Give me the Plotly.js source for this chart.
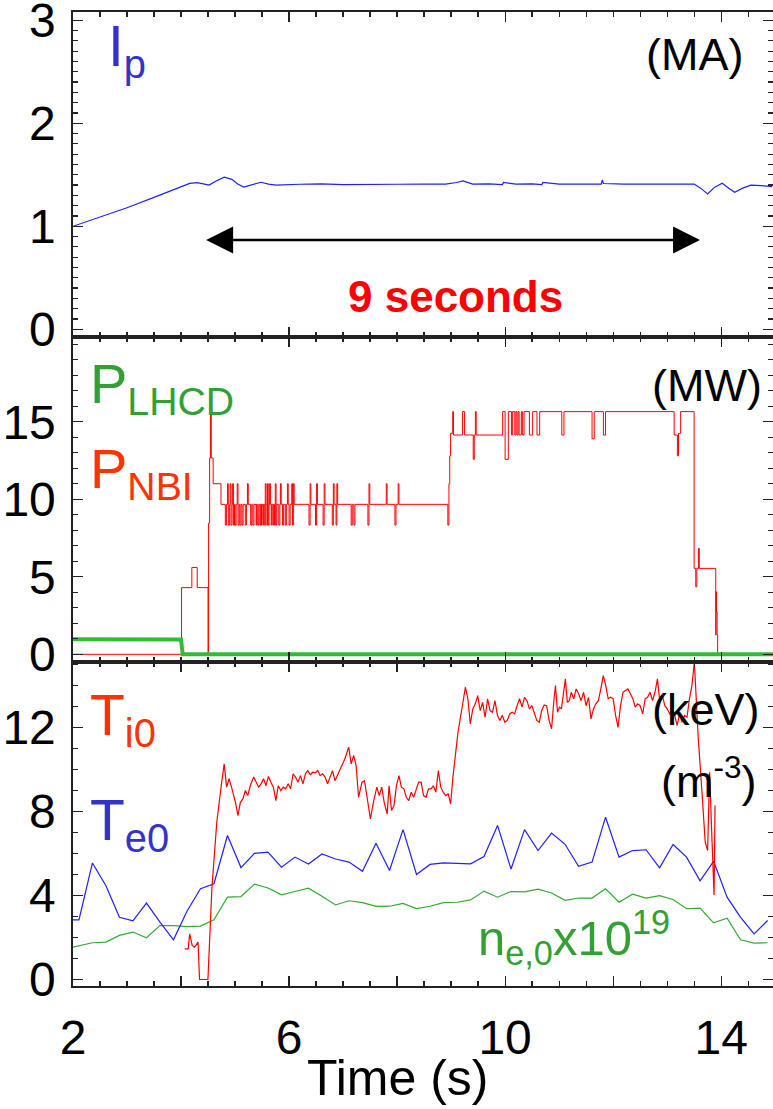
<!DOCTYPE html>
<html>
<head>
<meta charset="utf-8">
<script src="https://cdn.plot.ly/plotly-3.0.1.min.js"></script>
<style>html,body{margin:0;padding:0;background:#fff;}#chart{width:773px;height:1109px;}</style>
</head>
<body>
<div id="chart"></div>
<script>
// ---------- Panel 1: plasma current (MA) ----------
const ipT = [2.00,2.5,3.0,3.5,4.0,4.16,4.30,4.40,4.52,4.65,4.80,4.94,5.05,5.16,5.30,5.48,5.62,5.76,6.2,6.6,7.0,7.5,8.0,8.5,8.9,9.10,9.22,9.40,9.7,9.95,9.97,10.2,10.5,10.68,10.70,11.0,11.4,11.78,11.80,11.82,12.2,12.6,13.0,13.3,13.50,13.62,13.75,13.88,14.02,14.14,14.25,14.40,14.55,14.75,14.94];
const ipV = [1.00,1.09,1.18,1.28,1.38,1.417,1.424,1.41,1.40,1.44,1.476,1.456,1.41,1.38,1.40,1.427,1.41,1.40,1.408,1.412,1.405,1.41,1.408,1.41,1.41,1.425,1.44,1.41,1.412,1.405,1.425,1.41,1.412,1.405,1.425,1.41,1.41,1.41,1.45,1.415,1.41,1.41,1.408,1.41,1.41,1.37,1.314,1.38,1.417,1.37,1.33,1.37,1.40,1.395,1.385];

// ---------- Panel 2: heating powers (MW) ----------
const lhcdT = [2.0,4.0,4.03,14.96];
const lhcdV = [0.97,0.95,0.0,0.0];
const nbiT = [2.00,4.01,4.20,4.30,4.50,4.51,4.53,4.545,4.56,4.595,4.74,
 4.82,4.84,4.86,4.875,4.90,4.91,4.925,4.945,4.955,4.97,4.99,5.00,5.02,5.04,5.055,5.075,5.09,5.11,5.13,5.15,5.19,5.21,5.23,5.245,5.29,5.31,5.33,5.35,5.39,5.40,5.42,5.44,5.46,5.475,5.49,5.50,5.52,5.53,5.55,5.56,5.575,5.59,5.60,5.615,5.63,5.64,5.655,5.67,5.68,5.70,5.715,5.73,5.745,5.76,5.775,5.81,5.83,5.84,5.855,5.88,5.90,5.93,5.95,5.97,5.985,6.00,6.02,6.05,6.065,6.08,6.095,
 6.37,6.39,6.405,6.49,6.51,6.525,6.63,6.65,6.665,6.80,6.82,6.835,6.87,6.885,6.90,7.15,7.17,7.20,7.22,7.46,7.48,7.495,7.80,7.815,7.96,7.98,8.02,8.035,
 8.94,8.96,8.975,8.99,9.03,9.045,9.21,9.25,9.41,9.43,9.45,9.465,9.955,10.00,10.06,10.12,10.14,10.18,10.20,10.22,10.24,10.26,10.30,10.32,10.35,10.45,10.51,10.59,10.64,11.05,11.09,11.61,11.65,11.82,11.86,13.13,13.19,13.21,13.25,
 13.50,13.53,13.55,13.58,13.595,13.90,13.905,13.915,13.925,13.935,14.96];
const nbiV = [0,4.3,5.6,4.3,0,8.46,12.66,15.6,12.66,11.0,9.67,
 8.33,9.67,11.0,8.33,9.67,11.0,8.33,9.67,11.0,8.33,9.67,8.33,9.67,11.0,8.33,9.67,8.33,9.67,8.33,9.67,8.33,9.67,11.0,9.67,8.33,9.67,8.33,9.67,8.33,9.67,8.33,9.67,8.33,9.67,8.33,9.67,8.33,9.67,8.33,11.0,9.67,8.33,11.0,8.33,9.67,11.0,9.67,8.33,9.67,8.33,9.67,8.33,11.0,8.33,9.67,8.33,9.67,11.0,9.67,8.33,9.67,8.33,9.67,11.0,9.67,8.33,9.67,11.0,8.33,11.0,9.67,
 8.33,11.0,9.67,8.33,11.0,9.67,8.33,11.0,9.67,8.33,11.0,9.67,8.33,11.0,9.67,8.33,9.67,8.33,9.67,8.33,11.0,9.67,11.0,9.67,8.33,9.67,11.0,9.67,
 8.33,11.0,12.8,14.25,15.65,14.14,15.65,14.14,12.57,14.14,15.65,14.14,15.65,12.57,15.65,14.14,15.65,14.14,15.65,14.14,15.65,14.14,15.65,14.14,15.65,14.14,15.65,14.14,15.65,14.14,15.65,13.9,15.65,14.14,15.65,14.14,12.8,14.25,15.65,
 5.54,4.35,5.54,6.83,5.54,1.24,4.03,2.74,1.24,0,0];

// ---------- Panel 3: central temperatures (keV) and density (1e19 m^-3) ----------
const teT = [2.00,2.11,2.36,2.61,2.86,3.11,3.36,3.61,3.86,4.11,4.36,4.61,4.86,5.11,5.36,5.61,5.86,6.11,6.36,6.61,6.86,7.11,7.36,7.61,7.86,8.11,8.36,8.61,8.86,9.11,9.36,9.61,9.86,10.11,10.36,10.61,10.86,11.11,11.36,11.61,11.86,12.11,12.36,12.61,12.86,13.11,13.36,13.61,13.86,14.11,14.36,14.61,14.86];
const teV = [2.84,2.84,5.55,4.47,2.96,2.79,3.64,2.73,1.89,3.25,4.32,4.56,6.86,5.33,6.01,6.07,5.35,5.83,5.50,5.98,5.74,5.59,5.15,6.49,5.19,7.14,5.00,5.48,5.55,5.52,5.51,5.86,7.34,5.26,7.14,6.14,6.97,6.44,5.39,5.59,7.73,5.83,6.14,6.18,5.32,6.43,5.83,4.70,5.63,3.92,2.96,2.17,2.81];
const neT = [2.00,2.36,2.61,2.86,3.11,3.36,3.61,3.86,4.11,4.36,4.61,4.86,5.11,5.36,5.61,5.86,6.11,6.36,6.61,6.86,7.11,7.36,7.61,7.86,8.11,8.36,8.61,8.86,9.11,9.36,9.61,9.86,10.11,10.36,10.61,10.86,11.11,11.36,11.61,11.86,12.11,12.36,12.61,12.86,13.11,13.36,13.61,13.86,14.11,14.36,14.61,14.86];
const neV = [1.54,1.75,1.78,2.10,2.26,1.99,2.57,2.57,2.52,2.54,2.84,3.92,3.95,4.54,4.36,4.03,4.19,4.35,3.97,3.55,3.75,3.66,3.48,3.49,3.62,3.38,3.49,3.66,3.68,3.79,4.21,3.92,4.19,4.17,4.30,4.12,3.77,3.88,3.88,4.32,3.68,4.06,3.88,3.99,3.81,3.37,3.40,2.70,2.92,1.89,1.73,1.75];
const tiT = [4.069,4.133,4.160,4.206,4.252,4.315,4.343,4.498,4.571,4.662,4.753,4.799,4.844,4.890,4.935,5.008,5.054,5.099,5.145,5.191,5.236,5.282,5.346,5.391,5.437,5.482,5.528,5.573,5.619,5.665,5.710,5.756,5.801,5.847,5.892,5.938,5.984,6.029,6.075,6.120,6.166,6.211,6.257,6.303,6.348,6.394,6.439,6.485,6.531,6.576,6.622,6.667,6.713,6.759,6.804,6.850,6.895,6.941,7.032,7.105,7.150,7.196,7.242,7.287,7.351,7.397,7.442,7.506,7.561,7.625,7.670,7.716,7.761,7.816,7.852,7.898,7.944,7.989,8.035,8.080,8.126,8.171,8.217,8.263,8.308,8.354,8.399,8.445,8.490,8.536,8.582,8.627,8.673,8.718,8.764,8.809,8.855,8.901,8.946,8.992,9.037,9.128,9.220,9.265,9.311,9.356,9.402,9.448,9.493,9.539,9.584,9.630,9.676,9.721,9.767,9.812,9.858,9.903,9.949,9.995,10.040,10.086,10.131,10.177,10.222,10.268,10.314,10.359,10.405,10.450,10.496,10.542,10.587,10.633,10.678,10.724,10.769,10.815,10.861,10.906,10.933,10.970,11.006,11.043,11.089,11.116,11.152,11.189,11.225,11.271,11.316,11.362,11.407,11.453,11.499,11.544,11.590,11.635,11.681,11.727,11.772,11.818,11.863,11.909,11.954,12.000,12.046,12.091,12.137,12.182,12.228,12.273,12.319,12.365,12.410,12.456,12.501,12.547,12.593,12.638,12.684,12.729,12.775,12.821,12.866,12.912,12.957,13.003,13.048,13.094,13.140,13.185,13.231,13.276,13.322,13.368,13.413,13.459,13.504,13.577,13.641,13.705,13.750,13.786,13.832,13.869,13.887];
const tiV = [1.46,1.46,2.17,1.62,1.54,1.78,0.00,0.00,4.32,7.49,9.40,10.27,9.16,9.56,9.16,8.44,7.81,8.44,8.60,9.00,8.76,9.23,9.64,9.40,9.16,9.32,9.56,9.23,9.67,9.40,9.16,8.52,9.23,9.00,9.16,9.08,9.32,9.08,9.80,9.64,9.40,9.71,9.32,9.80,9.95,9.75,9.87,9.84,9.95,9.71,9.80,9.64,9.32,9.64,9.95,9.47,9.71,10.03,10.50,11.07,10.27,10.67,10.19,8.68,9.40,9.47,8.76,7.65,8.44,9.16,8.76,9.16,8.44,7.89,9.23,8.05,8.29,9.23,9.71,9.16,9.08,8.68,8.52,8.92,8.68,9.08,9.40,9.40,8.76,8.68,9.08,9.08,9.23,8.92,9.95,9.16,8.92,8.76,8.84,8.37,9.71,11.77,13.20,13.92,13.37,12.17,12.89,13.13,13.52,12.81,13.20,12.49,13.37,12.81,12.73,13.28,12.58,12.34,12.58,12.25,12.34,12.65,12.73,12.65,13.04,13.37,12.97,13.44,13.28,12.89,13.04,12.65,12.34,12.25,12.81,13.08,13.04,12.34,11.94,13.37,14.00,12.73,12.97,12.89,13.68,14.32,13.20,13.28,13.68,13.37,13.84,13.61,13.28,13.68,13.04,13.44,12.41,12.89,13.13,13.28,13.84,14.47,14.00,13.37,13.44,13.37,12.58,12.01,13.04,13.68,13.76,13.84,13.61,13.37,12.97,13.13,13.04,12.65,13.37,13.44,13.68,13.28,13.68,14.32,13.20,13.52,13.04,12.89,12.65,12.81,12.58,12.10,12.65,12.25,12.58,12.49,13.37,14.00,15.11,11.46,9.08,6.54,6.14,9.87,6.54,4.03,8.29];

// ---------- axes / labels ----------
const xTickVals = [2,4,6,8,10,12,14];
const xTickText = ['2','','6','','10','','14'];
const ipTicks = [0,1,2,3];
const powTicks = [0,5,10,15];
const tempTicks = [0,4,8,12];

const FONT = 'Liberation Sans, Arial, Helvetica, sans-serif';
const frame = {showline:true, linecolor:'#222', linewidth:1.6, mirror:'ticks', ticks:'inside',
  tickcolor:'#222', tickwidth:1.2, ticklen:10, showgrid:false, zeroline:false,
  ticklabeloverflow:'allow',
  tickfont:{family:FONT, size:48, color:'#000'}};

function xa(anchor, labels){
  const o = Object.assign({}, frame, {anchor:anchor, range:[2,14.96], tickmode:'array',
    tickvals:xTickVals, ticktext:xTickText, showticklabels:labels, ticklabelstandoff:9,
    minor:{tickmode:'linear', tick0:2, dtick:0.5, ticks:'inside', ticklen:5, tickcolor:'#222', tickwidth:1.2, showgrid:false}});
  if (anchor !== 'y') o.matches = 'x';
  return o;
}
function ya(domain, range, vals, minorD){
  return Object.assign({}, frame, {domain:domain, range:range, tickmode:'array', tickvals:vals,
    ticklabelstandoff:6,
    minor:{tickmode:'linear', tick0:0, dtick:minorD, ticks:'inside', ticklen:5, tickcolor:'#222', tickwidth:1.2, showgrid:false}});
}

const traces = [
  {x:ipT, y:ipV, xaxis:'x', yaxis:'y', mode:'lines', line:{color:'#1f1fff', width:1.2}},
  {x:nbiT, y:nbiV, xaxis:'x2', yaxis:'y2', mode:'lines', line:{color:'#ff0000', width:1, shape:'hv'}},
  {x:lhcdT, y:lhcdV, xaxis:'x2', yaxis:'y2', mode:'lines', line:{color:'#33bb33', width:4}},
  {x:neT, y:neV, xaxis:'x3', yaxis:'y3', mode:'lines', line:{color:'#33aa33', width:1.2}},
  {x:teT, y:teV, xaxis:'x3', yaxis:'y3', mode:'lines', line:{color:'#1f1fff', width:1.2}},
  {x:tiT, y:tiV, xaxis:'x3', yaxis:'y3', mode:'lines', line:{color:'#ff0000', width:1.2}}
];

function lab(text, x, y, size, color, xanchor, bold, yanchor){
  return {text:bold?('<b>'+text+'</b>'):text, x:x, y:y, xref:'paper', yref:'paper', xanchor:xanchor||'left', yanchor:yanchor||'middle',
    showarrow:false, font:{family:FONT, size:size, color:color}};
}

const annotations = [
  lab('I<sub>p</sub>', 0.047, 0.961, 57, '#3333cc'),
  lab('(MA)', 0.96, 0.956, 45, '#000', 'right'),
  lab('9 seconds', 0.546, 0.7084, 44, '#ff0000', 'center', true),
  lab('P<sub>LHCD</sub>', 0.022, 0.614, 56, '#33a033'),
  lab('P<sub>NBI</sub>', 0.022, 0.527, 56, '#ff3300'),
  lab('(MW)', 0.987, 0.617, 45, '#000', 'right'),
  lab('T<sub>i0</sub>', 0.021, 0.274, 57, '#ff3300'),
  lab('T<sub>e0</sub>', 0.021, 0.1665, 57, '#3333cc'),
  lab('(keV)', 0.984, 0.2834, 45, '#000', 'right'),
  lab('(m<sup>-3</sup>)', 0.98, 0.2136, 45, '#000', 'right'),
  lab('n<sub>e,0</sub>x10<sup>19</sup>', 0.576, 0.050, 49, '#33a033'),
  lab('Time (s)', 0.463, -0.1255, 50, '#000', 'center', false, 'bottom'),
  {x:13.61, y:0.867, xref:'x', yref:'y', ax:4.437, ay:0.867, axref:'x', ayref:'y', text:'',
   showarrow:true, arrowhead:2, startarrowhead:2, arrowside:'end+start', arrowsize:2, startarrowsize:2,
   arrowwidth:2.7, arrowcolor:'#000', standoff:0, startstandoff:0}
];

const layout = {
  width:773, height:1109, paper_bgcolor:'#fff', plot_bgcolor:'#fff', showlegend:false,
  margin:{l:73, r:0, t:12, b:123},
  font:{family:FONT, color:'#000'},
  xaxis: xa('y', false),
  xaxis2: xa('y2', false),
  xaxis3: xa('y3', true),
  yaxis: ya([0.6663,1], [-0.075,3.08], ipTicks, 0.1),
  yaxis2: ya([0.3326,0.6663], [-0.5,20.46], powTicks, 1),
  yaxis3: ya([0,0.3326], [-0.31,15.12], tempTicks, 1),
  annotations: annotations
};

Plotly.newPlot('chart', traces, layout, {staticPlot:true, displayModeBar:false});
</script>
</body>
</html>
